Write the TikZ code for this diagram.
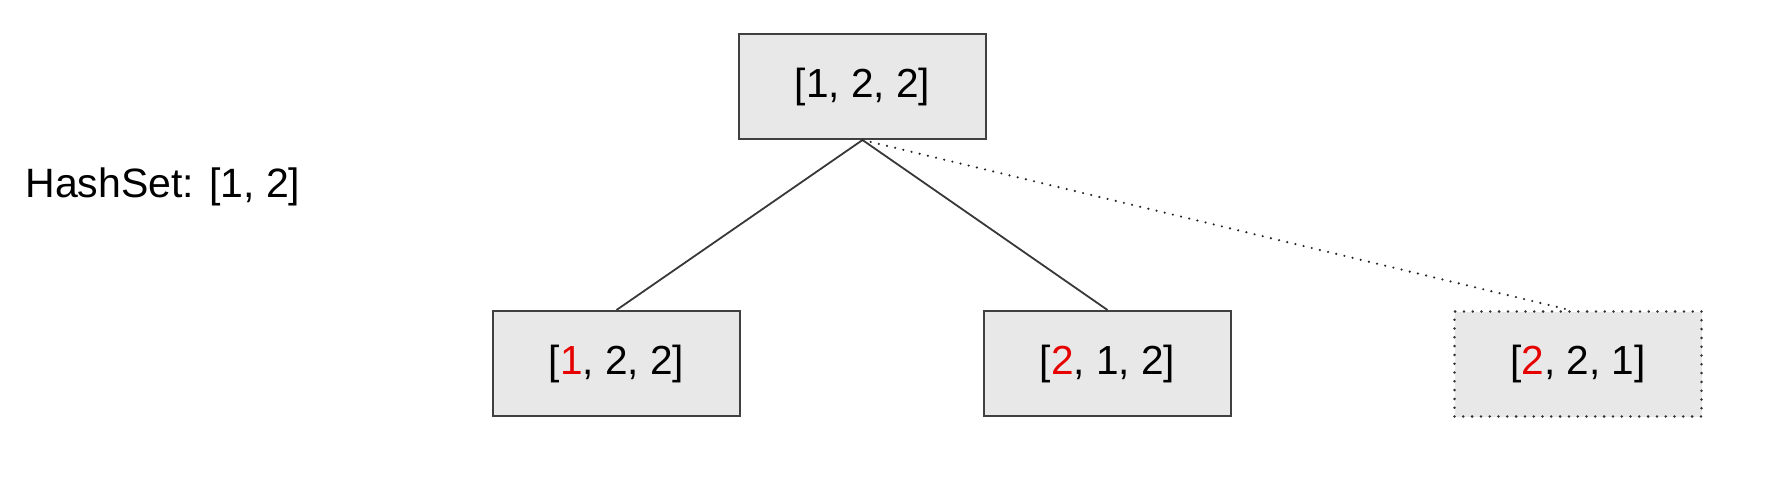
\documentclass[tikz,border=0pt]{standalone}
\usepackage{fontspec}
\setmainfont{Liberation Sans}
\begin{document}
\begin{tikzpicture}[x=0.5pt,y=-0.5pt,
  box/.style={draw=black!75, fill=black!9, line width=1pt, minimum width=123.5pt, minimum height=52.5pt, inner sep=0pt, font=\fontsize{20.3}{24}\selectfont},
  dotbox/.style={box, draw=black!80, line width=1.4pt, line cap=round, dash pattern=on 0pt off 4.4pt},
  edge/.style={draw=black!78, line width=0.9pt},
  dotedge/.style={draw=black!85, line width=1.2pt, line cap=round, dash pattern=on 0pt off 4.2pt}]
\definecolor{hl}{RGB}{230,0,0}
\useasboundingbox (0,0) rectangle (1770,488);
\node[box] (top) at (862.5,86.5) {[1, 2, 2]};
\node[box] (l) at (616.5,363.5) {[\textcolor{hl}{1}, 2, 2]};
\node[box] (m) at (1107.5,363.5) {[\textcolor{hl}{2}, 1, 2]};
\node[dotbox] (r) at (1578,364) {[\textcolor{hl}{2}, 2, 1]};
\node[anchor=base west, inner sep=0pt, font=\fontsize{20.5}{24}\selectfont] (hs) at (25,197) {HashSet: [1, 2]};
\draw[edge] (top.south) -- (l.north);
\draw[edge] (top.south) -- (m.north);
\draw[dotedge] (top.south) -- ([xshift=-4pt]r.north);
\end{tikzpicture}
\end{document}
